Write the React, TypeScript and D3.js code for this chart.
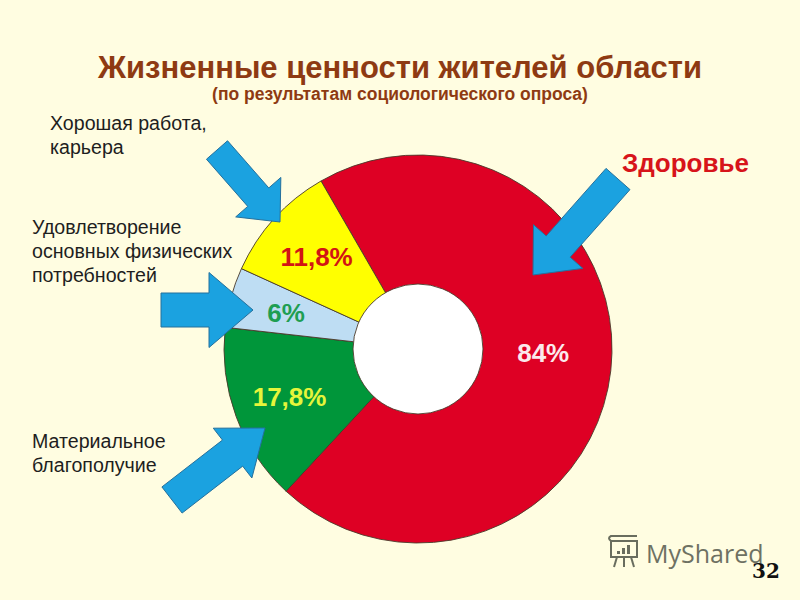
import React from "react";
import * as d3 from "d3";

const categories = ["Здоровье", "Материальное благополучие", "Удовлетворение основных физических потребностей", "Хорошая работа, карьера"];
const values = [84, 17.8, 6, 11.8];
const valueLabels = ["84%", "17,8%", "6%", "11,8%"];
const sliceColors = ["#DE0024", "#00963A", "#BEDDF3", "#FFFF00"];
const labelColors = ["#FBE9EC", "#E6F53A", "#1E9E52", "#D21414"];

const W = 800, H = 600;
const CX = 418, CY = 349, R = 194, R0 = 65;

type Arrow = { tail: [number, number]; tip: [number, number]; sw: number; hw: number; hl: number };
const arrows: Arrow[] = [
  { tail: [217, 150], tip: [280, 222], sw: 28, hw: 60, hl: 33 },
  { tail: [161, 310], tip: [253, 310], sw: 34, hw: 75, hl: 44 },
  { tail: [172, 500], tip: [265, 428], sw: 33, hw: 63, hl: 41 },
  { tail: [618, 179], tip: [533, 275], sw: 32, hw: 66, hl: 38 },
];

function arrowPath(a: Arrow) {
  const [tx, ty] = a.tail, [px, py] = a.tip;
  const L = Math.hypot(px - tx, py - ty);
  const ux = (px - tx) / L, uy = (py - ty) / L;
  const nx = -uy, ny = ux;
  const bx = px - ux * a.hl, by = py - uy * a.hl;
  const pts: [number, number][] = [
    [tx + nx * a.sw / 2, ty + ny * a.sw / 2],
    [bx + nx * a.sw / 2, by + ny * a.sw / 2],
    [bx + nx * a.hw / 2, by + ny * a.hw / 2],
    [px, py],
    [bx - nx * a.hw / 2, by - ny * a.hw / 2],
    [bx - nx * a.sw / 2, by - ny * a.sw / 2],
    [tx - nx * a.sw / 2, ty - ny * a.sw / 2],
  ];
  return d3.line()(pts) + "Z";
}

const FONT = "'Liberation Sans', Arial, sans-serif";

export default function App() {
  const start = (-30 * Math.PI) / 180;
  const pie = d3.pie<number>().sort(null).value((d) => d).startAngle(start).endAngle(start + 2 * Math.PI);
  const arcs = pie(values);
  const arc = d3.arc<d3.PieArcDatum<number>>().innerRadius(0).outerRadius(R);
  const labelArc = d3.arc<d3.PieArcDatum<number>>().innerRadius(137).outerRadius(137);
  const bigLabelArc = d3.arc<d3.PieArcDatum<number>>().innerRadius(126).outerRadius(126);

  const textStyle = { fontFamily: FONT };
  return (
    <svg width={W} height={H} style={{ position: "absolute", left: 0, top: 0, display: "block" }}>
      <rect width={W} height={H} fill="#FFFDE1" />
      <text x={400} y={78} textAnchor="middle" fontSize={31} fontWeight="bold" fill="#8E3A12" style={textStyle}>
        Жизненные ценности жителей области
      </text>
      <text x={400} y={100} textAnchor="middle" fontSize={17.5} fontWeight="bold" fill="#8E3A12" style={textStyle}>
        (по результатам социологического опроса)
      </text>

      <g transform={`translate(${CX},${CY})`}>
        {arcs.map((a, i) => (
          <path key={i} d={arc(a) || ""} fill={sliceColors[i]} stroke="#4a3a2a" strokeWidth={0.9} />
        ))}
        <circle r={R0} fill="#FFFFFF" stroke="#4a3a2a" strokeWidth={0.9} />
        {arcs.map((a, i) => {
          const [x, y] = (i === 0 ? bigLabelArc : labelArc).centroid(a);
          return (
            <text key={i} x={x} y={i === 0 ? y - 10 : y} dy="0.36em" textAnchor="middle" fontSize={26} fontWeight="bold" fill={labelColors[i]} style={textStyle}>
              {valueLabels[i]}
            </text>
          );
        })}
      </g>

      {arrows.map((a, i) => (
        <path key={i} d={arrowPath(a)} fill="#1BA2E0" stroke="#25709C" strokeWidth={1} strokeLinejoin="miter" />
      ))}

      <g fontSize={19.6} fill="#1e1e1e" style={textStyle}>
        <text x={50} y={130}>Хорошая работа,</text>
        <text x={50} y={154}>карьера</text>
        <text x={32} y={234}>Удовлетворение</text>
        <text x={32} y={258}>основных физических</text>
        <text x={32} y={282}>потребностей</text>
        <text x={32} y={448}>Материальное</text>
        <text x={32} y={472}>благополучие</text>
      </g>
      <text x={622} y={172} fontSize={26} fontWeight="bold" fill="#D7141A" style={textStyle}>
        {categories[0]}
      </text>

      <g opacity={0.85}>
        <g stroke="#4f5548" strokeWidth={2} fill="none">
          <rect x={611} y={541} width={26} height={16} />
          <path d="M611 541 q-4 -3 0 -5 h26" />
          <line x1={617} y1={557} x2={614} y2={567} />
          <line x1={624} y1={557} x2={624} y2={567} />
          <line x1={631} y1={557} x2={634} y2={567} />
        </g>
        <rect x={617} y={551} width={3} height={3} fill="#4f5548" />
        <rect x={622} y={548} width={3} height={6} fill="#4f5548" />
        <rect x={627} y={545} width={3} height={9} fill="#4f5548" />
        <text x={646} y={563} fontSize={25} fill="#55594d" style={{ fontFamily: "'Open Sans', 'Noto Sans', sans-serif" }}>
          MyShared
        </text>
      </g>
      <text x={752} y={578} fontSize={20} fontWeight="bold" fill="#111" style={{ fontFamily: "'DejaVu Serif', serif" }}>
        32
      </text>
    </svg>
  );
}
